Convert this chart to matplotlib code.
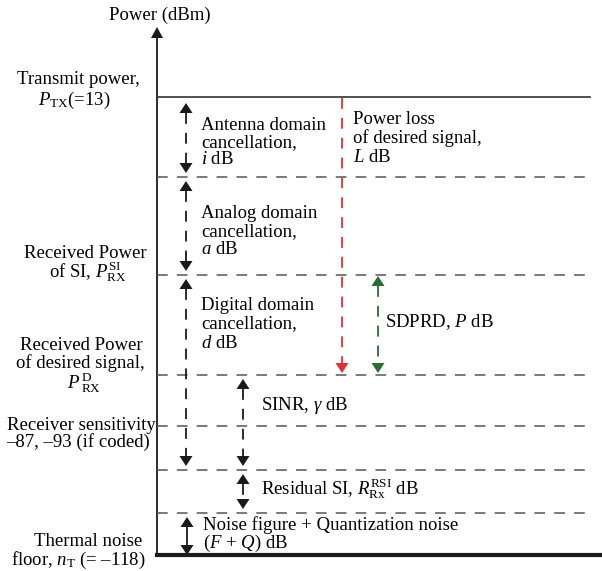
import matplotlib.pyplot as plt

plt.rcParams['font.family'] = 'Liberation Serif'
plt.rcParams['mathtext.fontset'] = 'custom'
plt.rcParams['mathtext.rm'] = 'Liberation Serif'
plt.rcParams['mathtext.it'] = 'Liberation Serif:italic'

# power levels (diagram units, top of figure = 0)
level_names = ['tx', 'antenna', 'si', 'desired', 'sensitivity', 'residual', 'noise', 'thermal']
level_y = [97, 177, 275, 375, 426, 470, 513, 555]
lv = dict(zip(level_names, level_y))

# arrows: x, from level, to level, heads, colour
arrow_x = [186, 186, 186, 243, 243, 187, 342, 378]
arrow_from = ['tx', 'antenna', 'si', 'desired', 'residual', 'noise', 'tx', 'si']
arrow_to = ['antenna', 'si', 'residual', 'residual', 'noise', 'thermal', 'desired', 'desired']
arrow_heads = ['both', 'both', 'both', 'both', 'both', 'both', 'end', 'both']
arrow_color = ['#1a1a1a'] * 6 + ['#e0313a', '#2b6b35']
arrow_solid = [False, False, False, False, False, True, False, False]

left_labels = [
    ('Transmit power,', 78, 80, 'center'),
    (r'$P_{\mathrm{TX}}$(=13)', 74, 100, 'center'),
    ('Received Power', 85, 253, 'center'),
    (r'of SI, $P_{\mathrm{RX}}^{\mathrm{SI}}$', 88, 272, 'center'),
    ('Received Power', 81, 346, 'center'),
    ('of desired signal,', 80, 363, 'center'),
    (r'$P^{\,\mathrm{D}}_{\;\mathrm{RX}}$', 84, 383, 'center'),
    ('Receiver sensitivity', 156, 425, 'right'),
    ('\u201387, \u201393 (if coded)', 150, 442, 'right'),
    ('Thermal noise', 88, 542, 'center'),
    ('floor, $n_{\\mathrm{T}}$ (= \u2013118)', 78, 560, 'center'),
]

right_labels = [
    ('Antenna domain', 201, 125),
    ('cancellation,', 201, 143),
    (r'$i$ dB', 201, 160),
    ('Power loss', 353, 120),
    ('of desired signal,', 353, 138),
    (r'$L$ dB', 353, 157),
    ('Analog domain', 201, 213),
    ('cancellation,', 201, 232),
    (r'$a$ dB', 201, 250),
    ('Digital domain', 201, 306),
    ('cancellation,', 201, 324),
    (r'$d$ dB', 201, 343),
    (r'SDPRD, $P$ dB', 385, 322),
    (r'SINR, $\gamma$ dB', 261, 405),
    (r'Residual SI, $R_{\mathrm{Rx}}^{\mathrm{RSI}}$ dB', 261, 489),
    ('Noise figure + Quantization noise', 203, 525),
    (r'$(F$ + $Q)$ dB', 203, 543),
]

fig = plt.figure(figsize=(6.02, 5.71), dpi=100)
ax = fig.add_axes([0, 0, 1, 1])
ax.set_xlim(0, 602)
ax.set_ylim(571, 0)
ax.axis('off')

axis_x = 157
# vertical power axis with arrow head
ax.plot([axis_x, axis_x], [lv['thermal'], 37], color='#1a1a1a', lw=1.3)
ax.fill([axis_x - 6, axis_x + 6, axis_x], [38, 38, 27], color='#1a1a1a', lw=0)
ax.text(160, 15, 'Power (dBm)', fontsize=13.5, ha='center', va='center')

# level lines
ax.plot([axis_x, 590], [lv['tx']] * 2, color='#333333', lw=1.2)
for name in ['antenna', 'si', 'desired', 'sensitivity', 'residual', 'noise']:
    ax.plot([axis_x, 585], [lv[name]] * 2, color='#555555', lw=1.1, dashes=(7, 6))
ax.plot([axis_x, 601], [lv['thermal']] * 2, color='#1a1a1a', lw=3)


def head(x, tip, direction, color):
    # direction +1 points down, -1 points up
    base = tip - direction * 10
    ax.fill([x - 6.5, x + 6.5, x], [base, base, tip], color=color, lw=0)


gap = 4
for x, a, b, h, c, s in zip(arrow_x, arrow_from, arrow_to, arrow_heads, arrow_color, arrow_solid):
    y0, y1 = lv[a], lv[b]
    if c != '#1a1a1a':
        g0, g1 = 1, 2
    elif s:
        g0, g1 = gap, 0
    else:
        g0, g1 = gap, gap
    top_tip = y0 + g0
    bot_tip = y1 - g1
    if a == 'tx' and c == '#1a1a1a':
        top_tip = y0 + 6
    shaft_top = top_tip + (10 if h == 'both' else 0)
    shaft_bot = bot_tip - 10
    if s:
        ax.plot([x, x], [shaft_top, shaft_bot], color=c, lw=1.3)
    else:
        ax.plot([x, x], [shaft_top, shaft_bot], color=c, lw=1.3, dashes=(6, 5))
    if h == 'both':
        head(x, top_tip, -1, c)
    head(x, bot_tip, 1, c)

for txt, x, y, ha in left_labels:
    ax.text(x, y, txt, fontsize=13.5, ha=ha, va='center')
for txt, x, y in right_labels:
    ax.text(x, y, txt, fontsize=13.5, ha='left', va='center')

fig.savefig('out.png', dpi=100)
